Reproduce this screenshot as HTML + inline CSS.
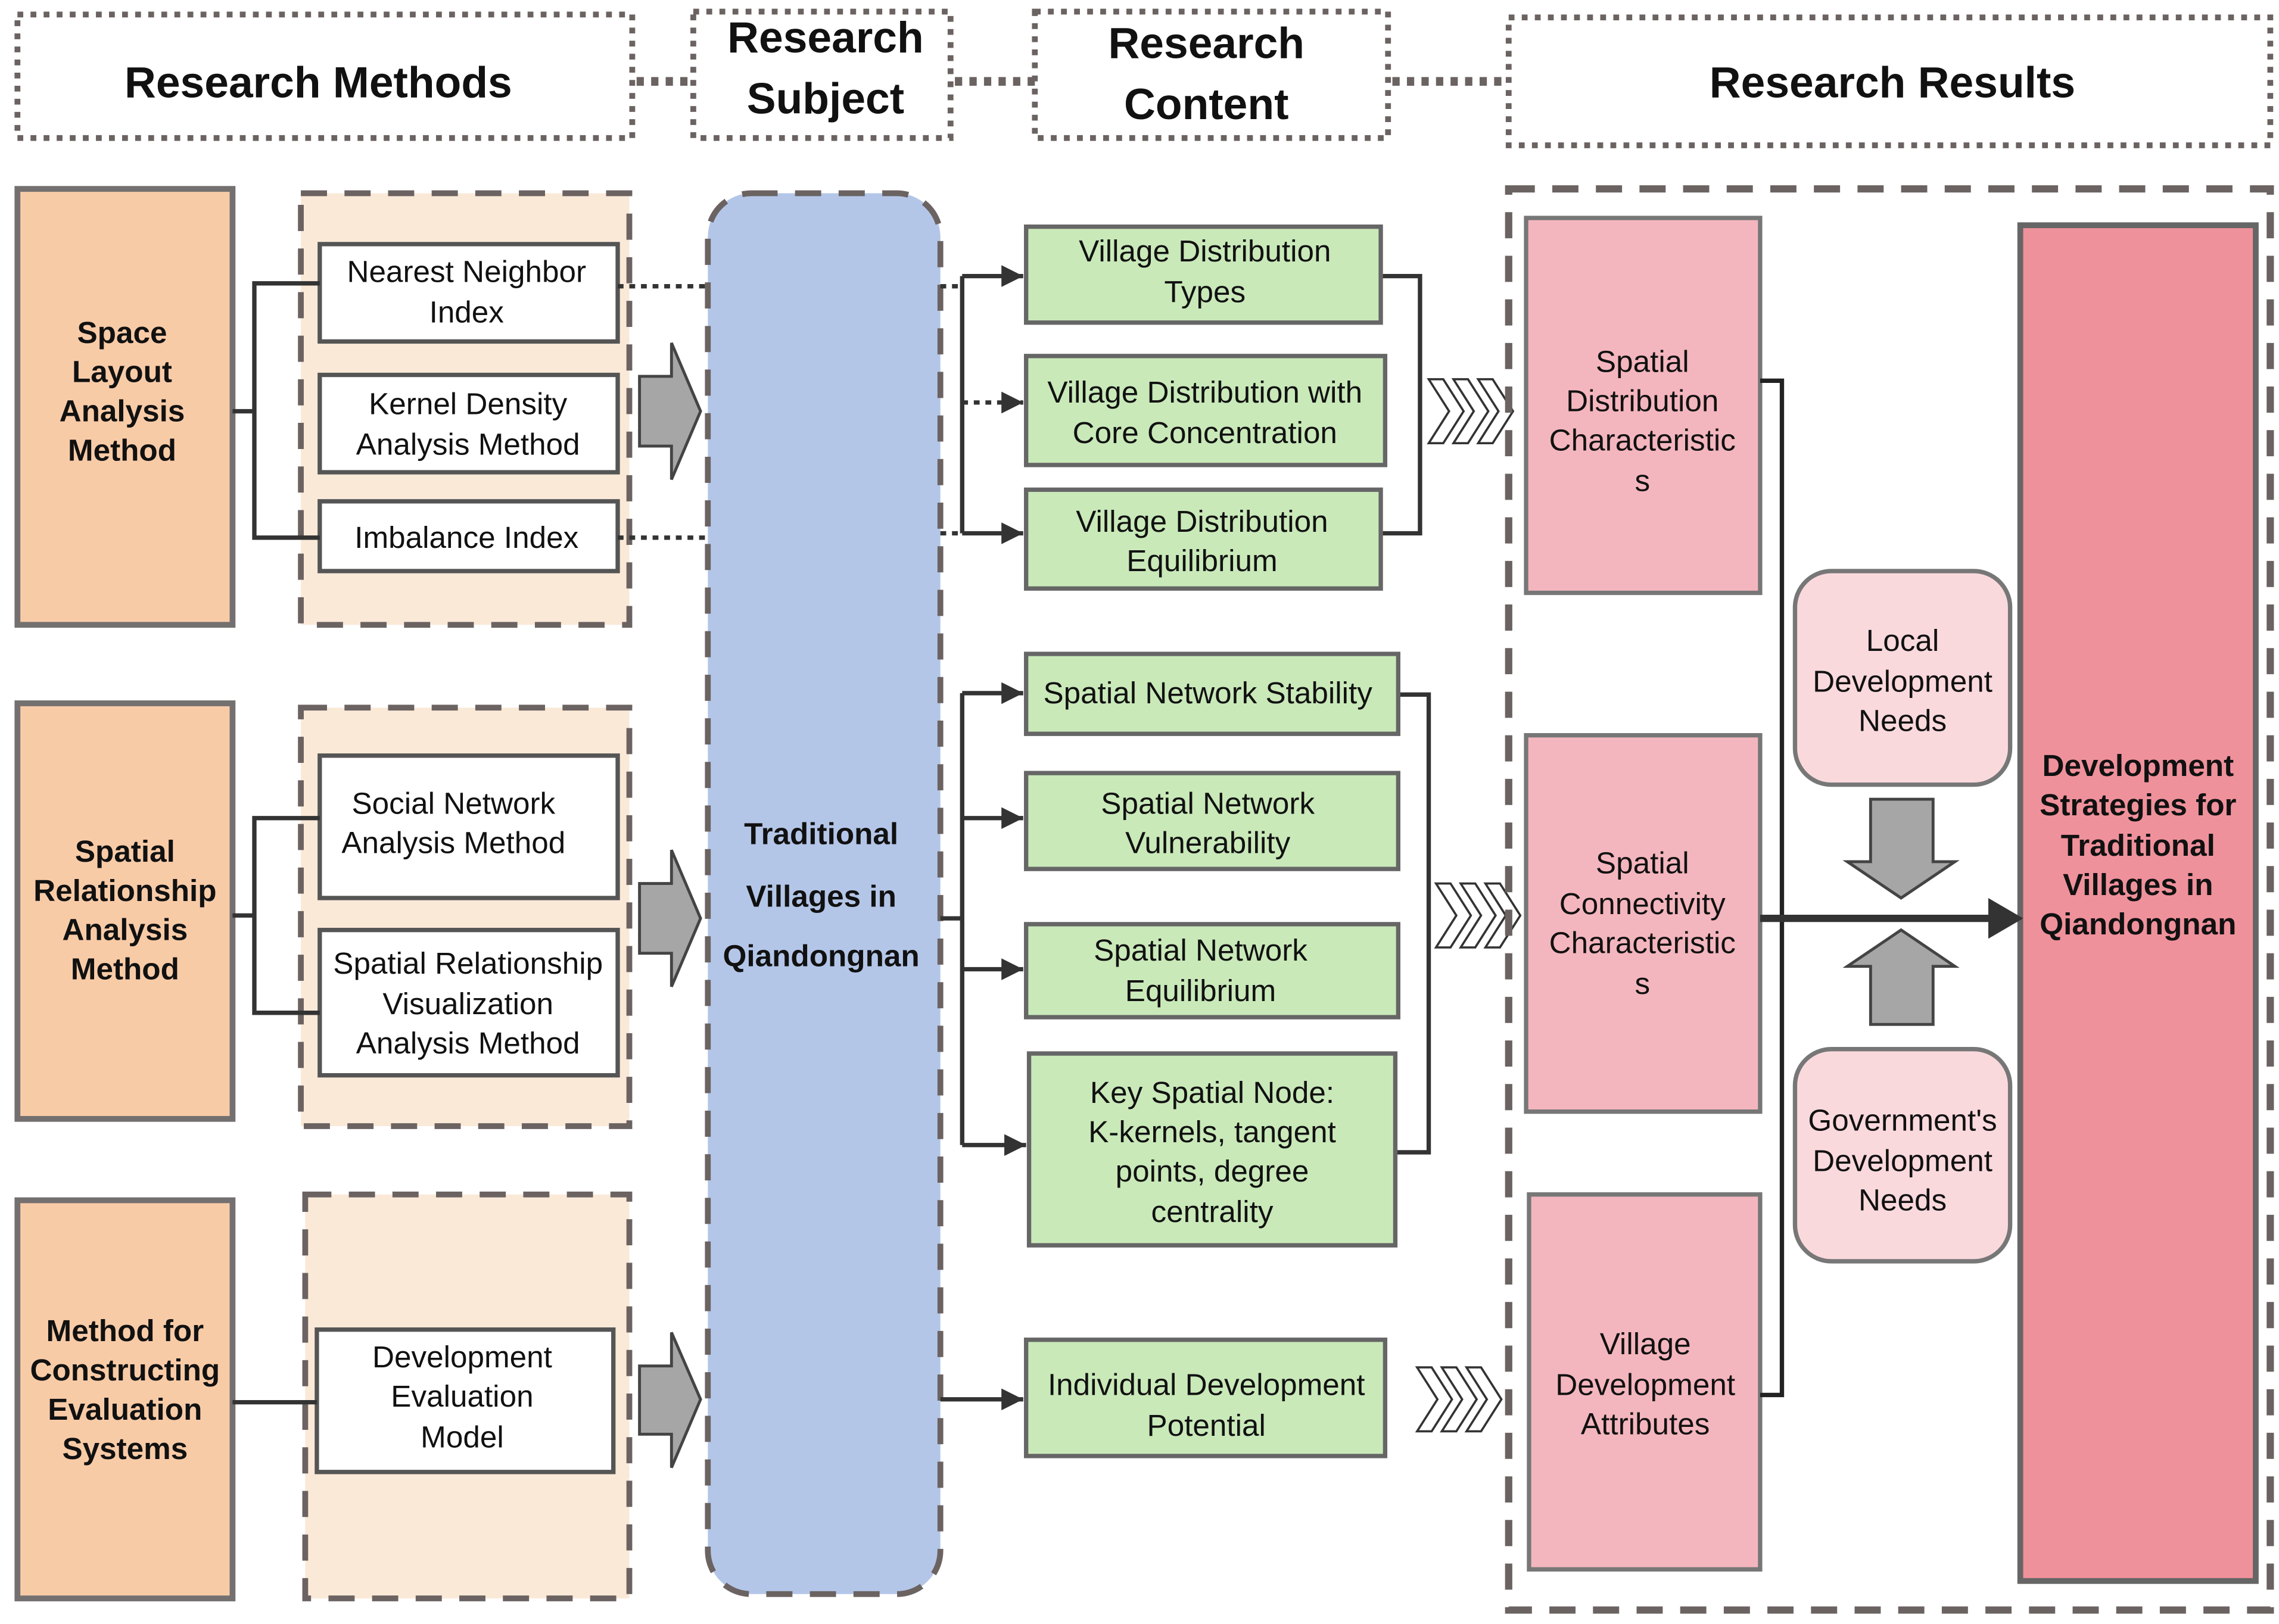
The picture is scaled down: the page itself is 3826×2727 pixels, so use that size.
<!DOCTYPE html>
<html><head><meta charset="utf-8">
<style>html,body{margin:0;padding:0;background:#fff}svg{display:block}
text{font-family:"Liberation Sans",sans-serif;fill:#111}
.b{font-weight:bold}
</style></head><body>
<svg width="3826" height="2727" viewBox="0 0 1568 1117.6" xmlns="http://www.w3.org/2000/svg">
<defs>
<marker id="ah" markerWidth="6" markerHeight="6" refX="5" refY="3" orient="auto" markerUnits="strokeWidth"><path d="M0,0.5 L5,3 L0,5.5 z" fill="#333"/></marker>
</defs>
<g fill="#fff" stroke="#6b6361" stroke-width="4" stroke-dasharray="4 5">
<rect x="12" y="10" width="423" height="85"/>
<rect x="477" y="8" width="177" height="87"/>
<rect x="712" y="8" width="243" height="87"/>
<rect x="1038" y="12" width="524" height="88"/>
</g>
<g stroke="#6b6361" stroke-width="6" stroke-dasharray="5 5">
<line x1="438" y1="56" x2="477" y2="56"/><line x1="657" y1="56" x2="712" y2="56"/><line x1="958" y1="56" x2="1038" y2="56"/>
</g>
<g class="b" font-size="30" text-anchor="middle">
<text x="219" y="67" class="b">Research Methods</text>
<text x="568" y="36" class="b">Research</text><text x="568" y="78" class="b">Subject</text>
<text x="830" y="40" class="b">Research</text><text x="830" y="82" class="b">Content</text>
<text x="1302" y="67" class="b">Research Results</text>
</g>
<!-- beige dashed containers -->
<g fill="#fbe9d8" stroke="#6b6361" stroke-width="4" stroke-dasharray="18 12">
<rect x="207" y="133" width="226" height="297"/>
<rect x="207" y="487" width="226" height="288"/>
<rect x="210" y="822" width="223" height="278"/>
</g>
<!-- orange boxes -->
<g fill="#f8cba7" stroke="#747070" stroke-width="4">
<rect x="12" y="130" width="148" height="300"/>
<rect x="12" y="484" width="148" height="286"/>
<rect x="12" y="826" width="148" height="274"/>
</g>
<g font-size="21" text-anchor="middle">
<text x="84" y="236" class="b">Space</text><text x="84" y="263" class="b">Layout</text><text x="84" y="290" class="b">Analysis</text><text x="84" y="317" class="b">Method</text>
<text x="86" y="593" class="b">Spatial</text><text x="86" y="620" class="b">Relationship</text><text x="86" y="647" class="b">Analysis</text><text x="86" y="674" class="b">Method</text>
<text x="86" y="923" class="b">Method for</text><text x="86" y="950" class="b">Constructing</text><text x="86" y="977" class="b">Evaluation</text><text x="86" y="1004" class="b">Systems</text>
</g>
<!-- white boxes -->
<g fill="#fff" stroke="#555" stroke-width="3">
<rect x="220" y="168" width="205" height="67"/>
<rect x="220" y="258" width="205" height="67"/>
<rect x="220" y="345" width="205" height="48"/>
<rect x="220" y="520" width="205" height="98"/>
<rect x="220" y="640" width="205" height="100"/>
<rect x="218" y="915" width="204" height="98"/>
</g>
<g font-size="21" text-anchor="middle">
<text x="321" y="194">Nearest Neighbor</text><text x="321" y="222">Index</text>
<text x="322" y="285">Kernel Density</text><text x="322" y="313">Analysis Method</text>
<text x="321" y="377">Imbalance Index</text>
<text x="312" y="560">Social Network</text><text x="312" y="587">Analysis Method</text>
<text x="322" y="670">Spatial Relationship</text><text x="322" y="698">Visualization</text><text x="322" y="725">Analysis Method</text>
<text x="318" y="941">Development</text><text x="318" y="968">Evaluation</text><text x="318" y="996">Model</text>
</g>
<!-- left brackets -->
<g stroke="#333" stroke-width="3" fill="none">
<path d="M160,283 H175 M220,195 H175 V370 H220"/>
<path d="M160,630 H175 M220,563 H175 V697 H220"/>
<path d="M160,965 H218"/>
</g>
<g stroke="#333" stroke-width="3" stroke-dasharray="4 4">
<line x1="425" y1="197" x2="487" y2="197"/><line x1="425" y1="370" x2="487" y2="370"/>
</g>
<!-- gray block arrows -->
<g fill="#a6a6a6" stroke="#444" stroke-width="2">
<path d="M440,259 H462 V236 L482,283 L462,330 V307 H440 z"/>
<path d="M440,608 H462 V585 L482,632 L462,679 V656 H440 z"/>
<path d="M440,940 H462 V917 L482,963 L462,1010 V987 H440 z"/>
<path d="M1287,550 H1330 V593 H1345 L1308,618 L1271,593 H1287 z"/>
<path d="M1287,705 H1330 V665 H1345 L1308,640 L1271,665 H1287 z"/>
</g>
<!-- subject -->
<rect x="487" y="133" width="160" height="964" rx="30" fill="#b4c6e8" stroke="#6b6361" stroke-width="4" stroke-dasharray="18 12"/>
<g font-size="21" text-anchor="middle">
<text x="565" y="581" class="b">Traditional</text><text x="565" y="624" class="b">Villages in</text><text x="565" y="665" class="b">Qiandongnan</text>
</g>
<!-- content connectors -->
<g stroke="#333" stroke-width="3" fill="none">
<line x1="647" y1="197" x2="660" y2="197" stroke-dasharray="4 4"/>
<line x1="647" y1="367" x2="660" y2="367" stroke-dasharray="4 4"/>
<line x1="662" y1="190" x2="662" y2="367"/>
<line x1="662" y1="190" x2="704" y2="190" marker-end="url(#ah)"/>
<line x1="662" y1="277" x2="704" y2="277" marker-end="url(#ah)" stroke-dasharray="4 4"/>
<line x1="662" y1="367" x2="704" y2="367" marker-end="url(#ah)"/>
<line x1="647" y1="632" x2="662" y2="632"/>
<line x1="662" y1="477" x2="662" y2="788"/>
<line x1="662" y1="477" x2="704" y2="477" marker-end="url(#ah)"/>
<line x1="662" y1="563" x2="704" y2="563" marker-end="url(#ah)"/>
<line x1="662" y1="667" x2="704" y2="667" marker-end="url(#ah)"/>
<line x1="662" y1="788" x2="706" y2="788" marker-end="url(#ah)"/>
<line x1="647" y1="963" x2="704" y2="963" marker-end="url(#ah)"/>
<path d="M950,190 H977 V367 H950"/>
<path d="M962,478 H983 V793 H960"/>
</g>
<!-- green boxes -->
<g fill="#c9e9b9" stroke="#666" stroke-width="3">
<rect x="706" y="156" width="244" height="66"/>
<rect x="706" y="245" width="247" height="75"/>
<rect x="706" y="337" width="244" height="68"/>
<rect x="706" y="450" width="256" height="55"/>
<rect x="706" y="532" width="256" height="66"/>
<rect x="706" y="636" width="256" height="64"/>
<rect x="708" y="725" width="252" height="132"/>
<rect x="706" y="922" width="247" height="80"/>
</g>
<g font-size="21" text-anchor="middle">
<text x="829" y="180">Village Distribution</text><text x="829" y="208">Types</text>
<text x="829" y="277">Village Distribution with</text><text x="829" y="305">Core Concentration</text>
<text x="827" y="366">Village Distribution</text><text x="827" y="393">Equilibrium</text>
<text x="831" y="484">Spatial Network Stability</text>
<text x="831" y="560">Spatial Network</text><text x="831" y="587">Vulnerability</text>
<text x="826" y="661">Spatial Network</text><text x="826" y="689">Equilibrium</text>
<text x="834" y="759">Key Spatial Node:</text><text x="834" y="786">K-kernels, tangent</text><text x="834" y="813">points, degree</text><text x="834" y="841">centrality</text>
<text x="830" y="960">Individual Development</text><text x="830" y="988">Potential</text>
</g>
<!-- chevrons -->
<g fill="#fff" stroke="#333" stroke-width="1.5">
<path d="M983,261 H993 L1007,283 L993,305 H983 L997,283 z"/>
<path d="M1000,261 H1010 L1024,283 L1010,305 H1000 L1014,283 z"/>
<path d="M1017,261 H1027 L1041,283 L1027,305 H1017 L1031,283 z"/>
<path d="M988,608 H998 L1012,630 L998,652 H988 L1002,630 z"/>
<path d="M1005,608 H1015 L1029,630 L1015,652 H1005 L1019,630 z"/>
<path d="M1022,608 H1032 L1046,630 L1032,652 H1022 L1036,630 z"/>
<path d="M975,941 H985 L999,963 L985,985 H975 L989,963 z"/>
<path d="M992,941 H1002 L1016,963 L1002,985 H992 L1006,963 z"/>
<path d="M1009,941 H1019 L1033,963 L1019,985 H1009 L1023,963 z"/>
</g>
<!-- results container -->
<rect x="1038" y="130" width="524" height="978" fill="none" stroke="#6b6361" stroke-width="5" stroke-dasharray="18 12"/>
<g fill="#f4b6be" stroke="#777" stroke-width="3">
<rect x="1050" y="150" width="161" height="258"/>
<rect x="1050" y="506" width="161" height="259"/>
<rect x="1052" y="822" width="159" height="258"/>
</g>
<g fill="#fad9dd" stroke="#777" stroke-width="3">
<rect x="1235" y="393" width="148" height="147" rx="25"/>
<rect x="1235" y="722" width="148" height="146" rx="25"/>
</g>
<rect x="1390" y="155" width="162" height="933" fill="#ef919b" stroke="#666" stroke-width="4"/>
<g stroke="#222" stroke-width="3" fill="none">
<path d="M1211,262 H1226 V960 H1211"/>
</g>
<line x1="1211" y1="632" x2="1370" y2="632" stroke="#333" stroke-width="5"/>
<path d="M1368,618 L1392,632 L1368,646 z" fill="#333"/>
<g font-size="21" text-anchor="middle">
<text x="1130" y="256">Spatial</text><text x="1130" y="283">Distribution</text><text x="1130" y="310">Characteristic</text><text x="1130" y="338">s</text>
<text x="1130" y="601">Spatial</text><text x="1130" y="629">Connectivity</text><text x="1130" y="656">Characteristic</text><text x="1130" y="684">s</text>
<text x="1132" y="932">Village</text><text x="1132" y="960">Development</text><text x="1132" y="987">Attributes</text>
<text x="1309" y="448">Local</text><text x="1309" y="476">Development</text><text x="1309" y="503">Needs</text>
<text x="1309" y="778">Government's</text><text x="1309" y="806">Development</text><text x="1309" y="833">Needs</text>
<text x="1471" y="534" class="b">Development</text><text x="1471" y="561" class="b">Strategies for</text><text x="1471" y="589" class="b">Traditional</text><text x="1471" y="616" class="b">Villages in</text><text x="1471" y="643" class="b">Qiandongnan</text>
</g>
</svg>
</body></html>
